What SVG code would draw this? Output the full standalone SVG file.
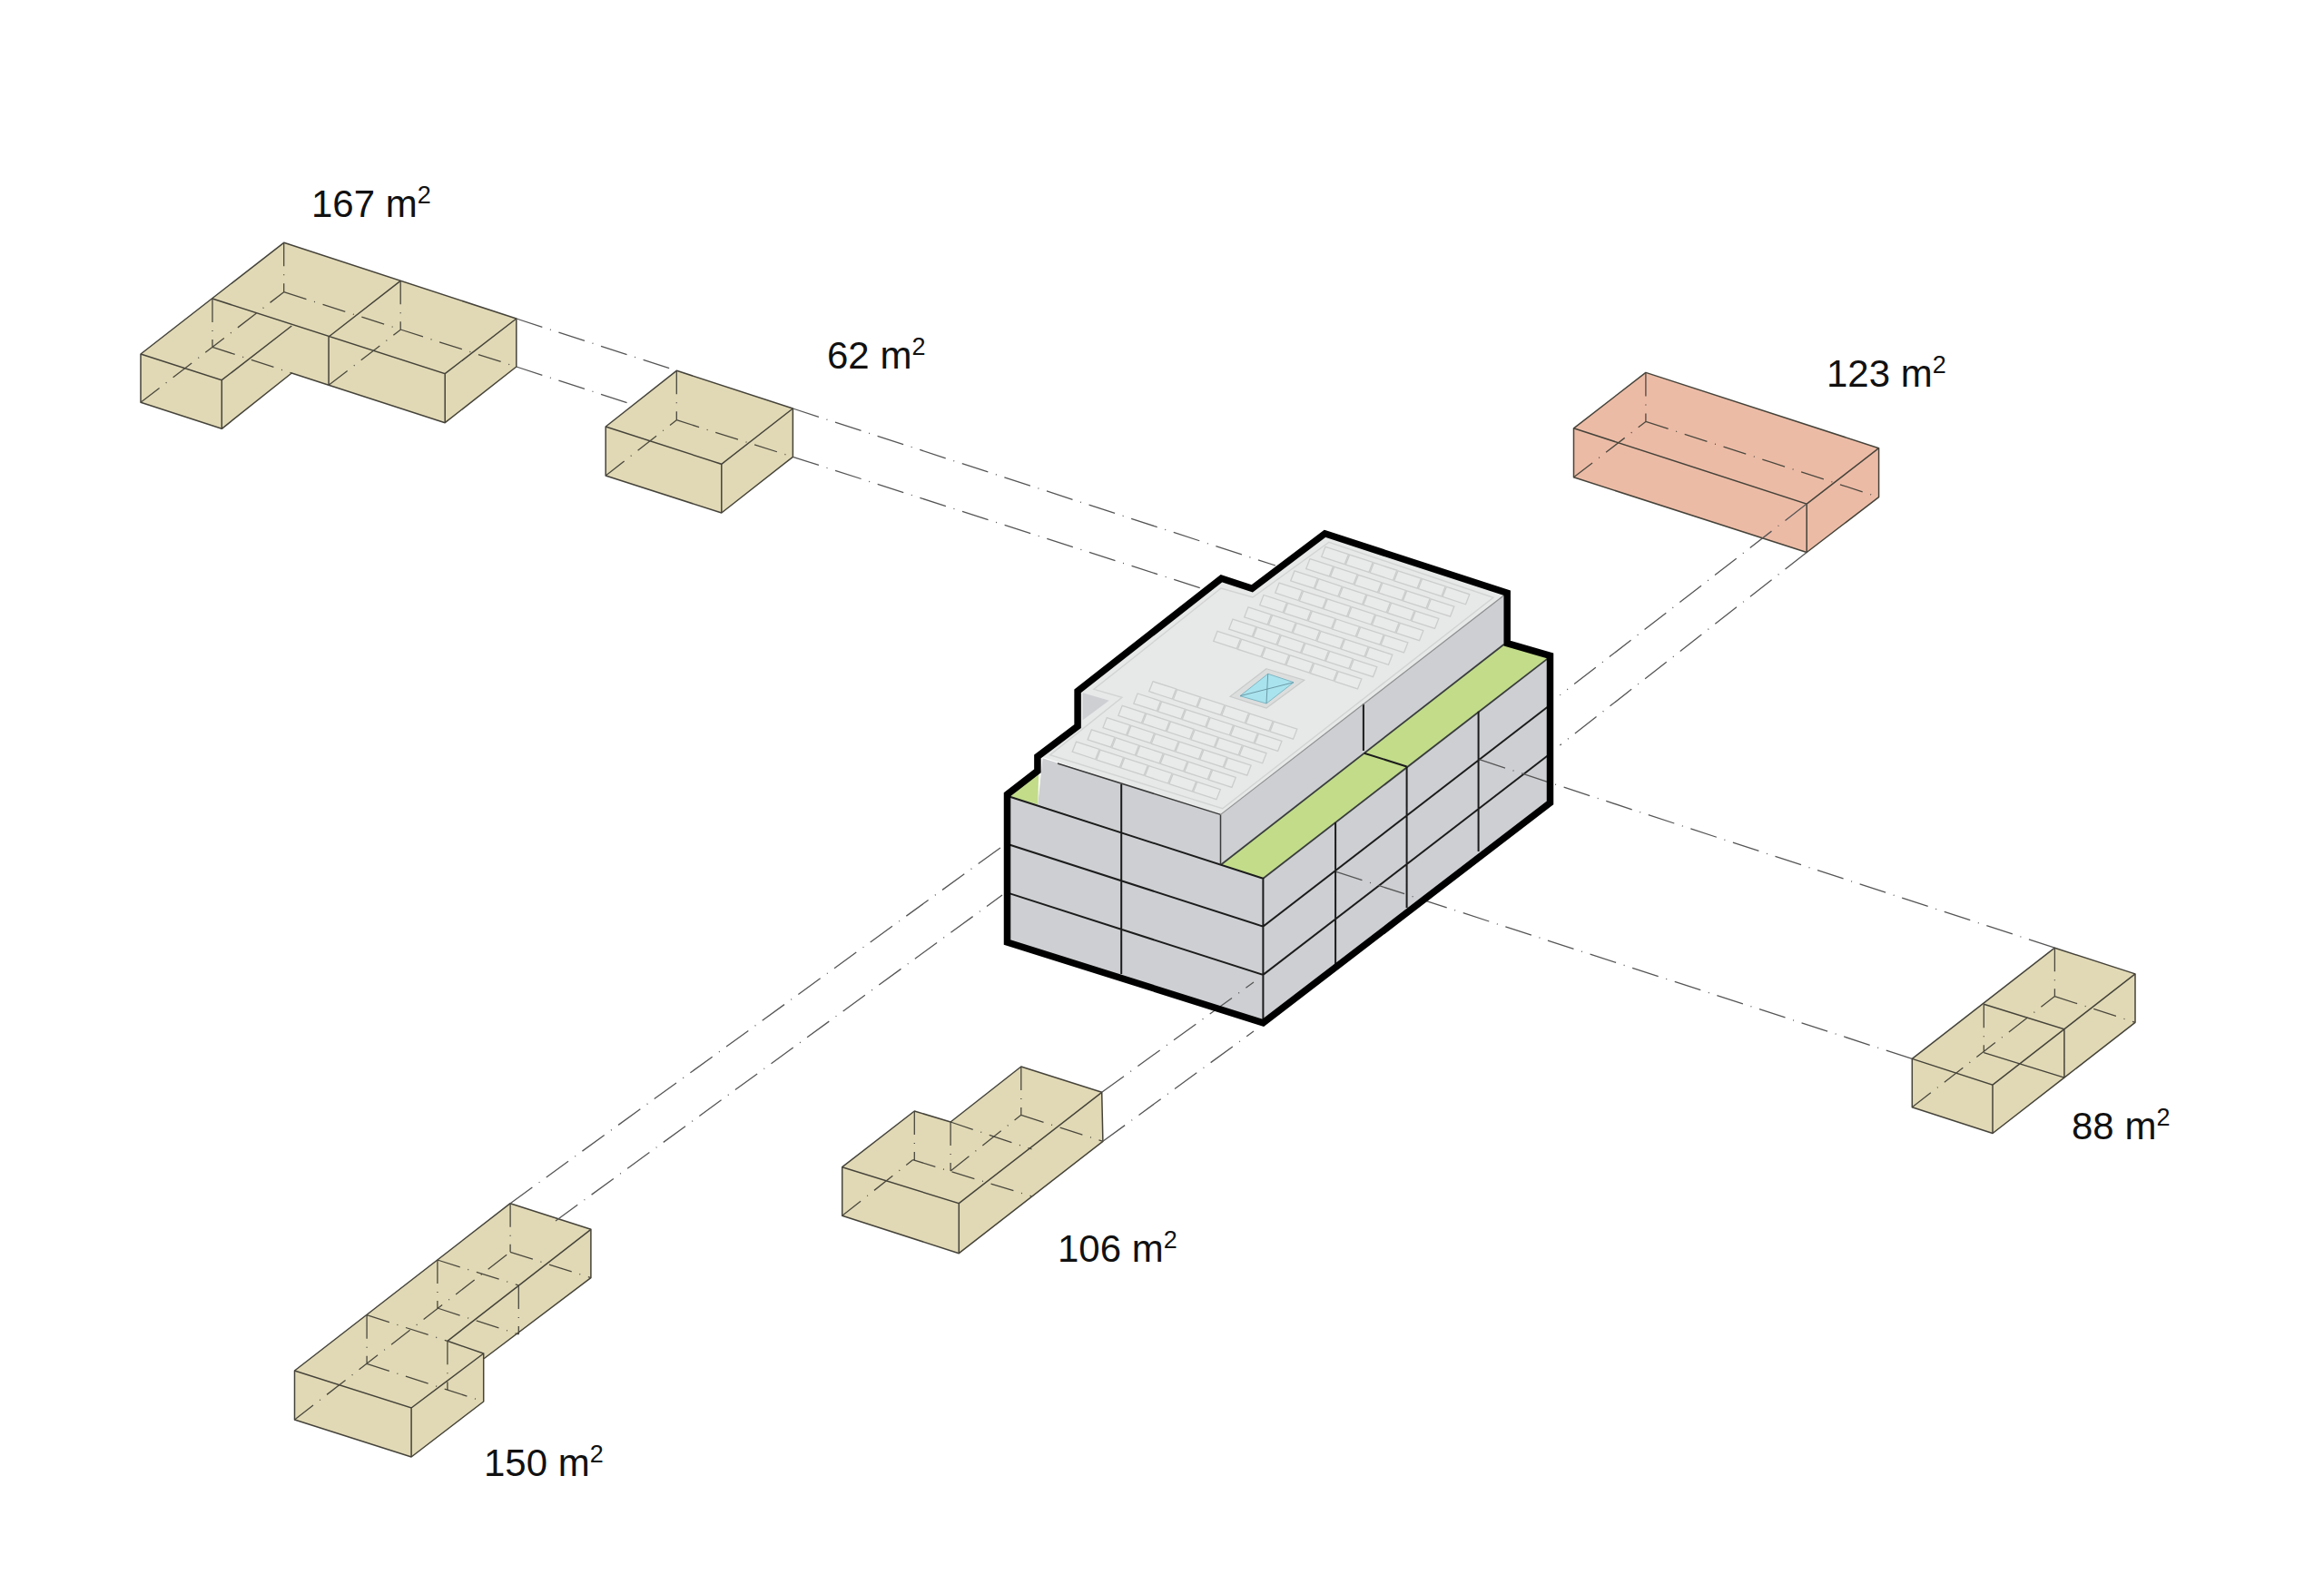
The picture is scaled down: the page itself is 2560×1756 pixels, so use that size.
<svg xmlns="http://www.w3.org/2000/svg" xmlns:xlink="http://www.w3.org/1999/xlink" width="2560" height="1756" viewBox="0 0 2560 1756">
<style>
.tan{fill:#e1d9b5;stroke:#45433a;stroke-width:1.5;stroke-linejoin:round}
.red{fill:#ecbba6;stroke:#45433a;stroke-width:1.5;stroke-linejoin:round}
.s{fill:none;stroke:#45433a;stroke-width:1.5}
.h{fill:none;stroke:#4a483e;stroke-width:1.3;stroke-dasharray:26 9 1 9}
.c{fill:none;stroke:#555;stroke-width:1.3;stroke-dasharray:30 9 1 9}
.lab{font-family:"Liberation Sans",Arial,sans-serif;font-size:42px;fill:#111}
.sup{font-size:27px}
.face{fill:#cdcfd2}
.grid{fill:none;stroke:#1c1c1c;stroke-width:2}
.thin{fill:none;stroke:#3a3d3d;stroke-width:1.8}
.panel{fill:#e9eaea;stroke:#cbcccc;stroke-width:1.3}
</style>
<defs>
<polygon id="panel" class="panel" points="0,0 25.5,8.3 21.2,19.3 -4.3,11"/>
<g id="row6">
<use xlink:href="#panel" href="#panel"/>
<use xlink:href="#panel" href="#panel" x="26.67" y="8.83"/>
<use xlink:href="#panel" href="#panel" x="53.33" y="17.67"/>
<use xlink:href="#panel" href="#panel" x="80" y="26.5"/>
<use xlink:href="#panel" href="#panel" x="106.67" y="35.33"/>
<use xlink:href="#panel" href="#panel" x="133.33" y="44.17"/>
</g>
</defs>
<rect width="2560" height="1756" fill="#fff"/>

<g id="box-167">
<polygon class="tan" points="155,390 312.7,267.3 568.8,351 568.8,404 490.2,465.7 362.1,424.3 321.3,411 244.3,472.3 155,443.3"/>
<path class="s" d="M155,390L244.3,418.7V472.3M244.3,418.7L321.3,359M234,329L490.2,411.7L568.8,351M490.2,411.7V465.7M441.2,309.3L362.1,371V424.3"/>
<path class="h" d="M312.7,267.3V321.7M234,329V382.3M441.2,309.3V363.3M312.7,321.7L568.8,404M234,382.3L321.3,411M155,443.3L312.7,321.7M362.1,424.3L441.2,363.3"/>
<text class="lab" x="343" y="239">167 m<tspan class="sup" dy="-15">2</tspan></text>
</g>

<g id="box-62">
<polygon class="tan" points="667.2,470 745.3,408.3 873.4,450 873.4,503.3 794.8,565 667.2,524"/>
<path class="s" d="M667.2,470L794.8,511.3L873.4,450M794.8,511.3V565"/>
<path class="h" d="M745.3,408.3V462.7M745.3,462.7L873.4,503.3M667.2,524L745.3,462.7"/>
<text class="lab" x="911" y="406">62 m<tspan class="sup" dy="-15">2</tspan></text>
</g>

<g id="box-123">
<polygon class="red" points="1733.5,471.8 1812.9,410.4 2069.6,493.7 2069.6,547.6 1990.2,608.5 1733.5,525.8"/>
<path class="s" d="M1733.5,471.8L1990.2,555.1L2069.6,493.7M1990.2,555.1V608.5"/>
<path class="h" d="M1812.9,410.4V464.4M1812.9,464.4L2069.6,547.6M1733.5,525.8L1812.9,464.4"/>
<text class="lab" x="2012" y="426">123 m<tspan class="sup" dy="-15">2</tspan></text>
</g>

<g id="box-88">
<polygon class="tan" points="2106.3,1166.4 2263.4,1044.2 2352,1072.9 2352,1126.3 2273.9,1187.1 2195,1248.5 2106.3,1219.8"/>
<path class="s" d="M2106.3,1166.4L2195,1195.2L2352,1072.9M2195,1195.2V1248.5M2185.3,1106.2L2273.9,1133.7V1187.1M2185.3,1159.6L2273.9,1187.1"/>
<path class="h" d="M2263.4,1044.2V1097.6M2263.4,1097.6L2352,1126.3M2106.3,1219.8L2263.4,1097.6M2185.3,1106.2V1159.6"/>
<text class="lab" x="2282" y="1255">88 m<tspan class="sup" dy="-15">2</tspan></text>
</g>

<g id="box-106">
<polygon class="tan" points="927.7,1285.7 1007.3,1224 1047.1,1236 1124.8,1175 1213.7,1203.3 1214.9,1257.3 1056.3,1380.7 927.7,1339.3"/>
<path class="s" d="M927.7,1285.7L1056.3,1325.7L1213.7,1203.3M1056.3,1325.7V1380.7"/>
<path class="h" d="M1007.3,1224V1277.7M1047.1,1236V1290M1124.8,1175V1228.3M1124.8,1228.3L1214.9,1257.3M1005.5,1277.7L1135.9,1317.7M1047.1,1236L1136.5,1266M927.7,1339.3L1005.5,1277.7M1047.1,1290L1124.8,1228.3"/>
<text class="lab" x="1165" y="1390">106 m<tspan class="sup" dy="-15">2</tspan></text>
</g>

<g id="box-150">
<polygon class="tan" points="324.5,1510 562.1,1325.7 650.9,1354.3 650.9,1407.7 532.7,1497 532.7,1544 453.1,1605 324.5,1564"/>
<path class="s" d="M324.5,1510L453.1,1551L532.7,1491M453.1,1551V1605M492.9,1477.3L532.7,1491V1497M492.9,1477.3L650.9,1354.3"/>
<path class="h" d="M562.1,1325.7V1379.3M481.9,1388V1441M404.1,1448.7V1502.3M492.9,1477.3V1531.7M571.3,1416V1470M404.1,1448.7L492.9,1477.3M481.9,1388L571.3,1416M562.1,1379.3L650.9,1407.7M481.9,1441L571.3,1470M404.1,1502.3L532.7,1544M324.5,1564L562.1,1379.3"/>
<text class="lab" x="533" y="1626">150 m<tspan class="sup" dy="-15">2</tspan></text>
</g>

<g id="building">
<polygon class="face" points="1109.5,875 1391.4,967.7 1391.4,1126.8 1109.5,1038"/>
<polygon class="face" points="1391.4,967.7 1707,722.4 1707,884.5 1391.4,1126.8"/>
<polygon fill="#c2dc8a" points="1345.4,952.2 1391.4,967.7 1705,725.4 1656.8,709.8"/>
<polygon fill="#c2dc8a" points="1112.5,877.8 1144.2,851 1143.3,886.3"/>
<polygon class="face" points="1148.5,835.3 1344.5,897.4 1344.5,952.2 1143.3,886.3"/>
<polygon class="face" points="1344.5,897.4 1656.8,655.8 1656.8,709.8 1344.5,952.2"/>
<polygon fill="#e7e8e8" points="1460,590 1657,655.5 1343.3,897.7 1148.3,834 1143,830 1187,797 1187,761 1345.4,637.3 1379.2,648.4"/>
<polygon fill="#cdcfd2" points="1192.7,763.3 1221.7,771.7 1192.7,793.3"/>
<polygon fill="none" stroke="#d2d3d3" stroke-width="1.4" points="1464,597.3 1645,658.3 1346.7,890.7 1156.7,831.7 1236,768.3 1205,759.3 1345,648 1380,658"/>
<g id="panels-north">
<use xlink:href="#row6" href="#row6" x="1460" y="602.3"/>
<use xlink:href="#row6" href="#row6" x="1443" y="615.6"/>
<use xlink:href="#row6" href="#row6" x="1426" y="628.9"/>
<use xlink:href="#row6" href="#row6" x="1409" y="642.2"/>
<use xlink:href="#row6" href="#row6" x="1392" y="655.5"/>
<use xlink:href="#row6" href="#row6" x="1375" y="668.8"/>
<use xlink:href="#row6" href="#row6" x="1358" y="682.1"/>
<use xlink:href="#row6" href="#row6" x="1341" y="695.4"/>
</g>
<g id="panels-south">
<use xlink:href="#row6" href="#row6" x="1270" y="750.7"/>
<use xlink:href="#row6" href="#row6" x="1253.1" y="764"/>
<use xlink:href="#row6" href="#row6" x="1236.2" y="777.3"/>
<use xlink:href="#row6" href="#row6" x="1219.3" y="790.6"/>
<use xlink:href="#row6" href="#row6" x="1202.4" y="803.9"/>
<use xlink:href="#row6" href="#row6" x="1185.5" y="817.2"/>
</g>
<g id="skylight">
<polygon fill="#dcdddd" stroke="#c9caca" stroke-width="1.2" points="1395,736.7 1436.7,749.3 1395,780 1355,767.3"/>
<polygon fill="#a9e3ee" stroke="#7fb8c4" stroke-width="1" points="1396.7,742.3 1425,751.7 1395,775 1366,766.7"/>
<path fill="none" stroke="#6b9aa5" stroke-width="1" d="M1396.7,742.3L1395,775M1366,766.7L1425,751.7"/>
</g>
<path class="thin" d="M1345.4,952.2L1656.8,709.8M1391.4,967.7L1705,725.4"/>
<path class="grid" d="M1112.5,877.8L1391.4,967.7V1126.8M1112.5,930.7L1391.4,1020.6L1704.4,779M1112.5,984.4L1391.4,1073.9L1704.4,832.7M1235.2,864.1V1073M1471.1,905.9V1062M1549.6,844.5V999.9M1628.6,783.8V938.1M1501.9,775.3V827.1M1502.8,829.7L1549.6,844.5"/>
<path fill="none" stroke="#3a3a3a" stroke-width="1.5" d="M1344.5,897.4V952.2M1165,841L1344.5,897.4"/>
<path fill="none" stroke="#8b8d8e" stroke-width="1.2" d="M1344.5,897.4L1656.8,655.8"/>
</g>

<g id="connectors">
<path class="c" d="M568.8,351L745.3,408.3M873.4,450L1405,623M568.8,404L695,445M873.4,503.3L1323,648"/>
<path class="c" d="M1990.2,555.1L1718.4,765.8M1990.2,608.5L1718.4,820.9"/>
<path class="c" d="M2263.4,1044.2L1628.6,836.4M2106.3,1166.4L1471,960"/>
<path class="c" d="M1213.7,1203.3L1381,1082M1214.9,1257.3L1381,1136"/>
<path class="c" d="M562.1,1325.7L1106,931M612,1345L1104,986"/>
</g>

<g id="building-outline">
<polygon fill="none" stroke="#000" stroke-width="7.5" stroke-linejoin="miter" points="1459.4,587.8 1660.2,653.2 1660.2,708.7 1707.5,722.4 1707.5,884.5 1391.4,1126.8 1109.5,1038 1109.5,875.2 1142.9,849.3 1142.9,833.4 1187.1,800.1 1187.1,761.3 1345.4,637.3 1379.2,648.4"/>
</g>
</svg>
